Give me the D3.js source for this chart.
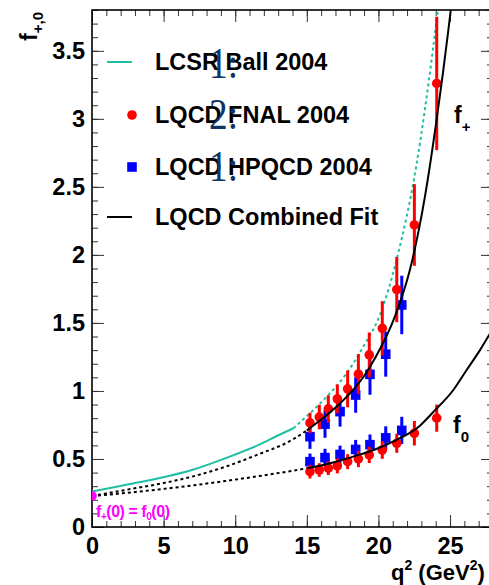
<!DOCTYPE html>
<html>
<head>
<meta charset="utf-8">
<script src="https://cdn.jsdelivr.net/npm/d3@7"></script>
<style>
  body { margin: 0; background: #fff; }
  svg text { font-family: "Liberation Sans", Arial, sans-serif; font-weight: bold; }
</style>
</head>
<body>
<div id="chart"></div>
<script>
// tick labels
const xTicks = [0, 5, 10, 15, 20, 25];
const yTicks = [0, 0.5, 1, 1.5, 2, 2.5, 3, 3.5];

// LQCD FNAL 2004 (red circles)
const qFnal = [15.22, 15.87, 16.50, 17.13, 17.85, 18.60, 19.36, 20.27, 21.28, 22.51, 24.07];
const fpFnal = [0.765, 0.808, 0.868, 0.942, 1.015, 1.124, 1.265, 1.46, 1.745, 2.22, 3.26];
const fpFnalErr = [0.075, 0.09, 0.1, 0.105, 0.135, 0.147, 0.165, 0.2, 0.24, 0.3, 0.49];
const f0Fnal = [0.407, 0.419, 0.432, 0.449, 0.48, 0.5, 0.53, 0.566, 0.615, 0.689, 0.80];
const f0FnalErr = [0.05, 0.05, 0.05, 0.055, 0.055, 0.06, 0.06, 0.065, 0.07, 0.09, 0.1];

// LQCD HPQCD 2004 (blue squares)
const qHpqcd = [15.22, 16.27, 17.32, 18.41, 19.41, 20.51, 21.63];
const fpHpqcd = [0.664, 0.756, 0.848, 0.97, 1.122, 1.27, 1.632];
const fpHpqcdErr = [0.09, 0.1, 0.11, 0.13, 0.15, 0.165, 0.215];
const f0Hpqcd = [0.48, 0.51, 0.533, 0.57, 0.605, 0.655, 0.71];
const f0HpqcdErr = [0.06, 0.065, 0.065, 0.07, 0.075, 0.085, 0.1];

// LCSR Ball 2004
const qLcsr = [0, 2.33, 4.65, 6.98, 9.31, 11.64, 13.13, 14.06];
const fLcsr = [0.26, 0.309, 0.358, 0.419, 0.505, 0.603, 0.68, 0.726];
const qLcsrExt = [14.06, 15.22, 16.39, 17.78, 18.95, 20.11, 21.28, 22.67, 23.83, 24.15];
const fLcsrExt = [0.726, 0.836, 0.958, 1.13, 1.326, 1.56, 1.97, 2.67, 3.53, 3.8];

// LQCD combined fit, f+
const qFitPlusExt = [0, 2.33, 4.65, 6.98, 9.31, 11.64, 13.97, 15];
const fFitPlusExt = [0.228, 0.272, 0.316, 0.37, 0.443, 0.535, 0.64, 0.71];
const qFitPlus = [15, 15.57, 16.97, 18.37, 19.0, 19.76, 21.16, 22.2, 23.25, 24.07, 24.88, 25.05];
const fFitPlus = [0.71, 0.755, 0.875, 1.025, 1.11, 1.24, 1.55, 1.89, 2.43, 3.0, 3.65, 3.8];

// LQCD combined fit, f0
const qFitZeroExt = [0, 2.33, 4.65, 6.98, 9.31, 11.64, 13.97, 15];
const fFitZeroExt = [0.228, 0.25, 0.276, 0.305, 0.338, 0.374, 0.413, 0.432];
const qFitZero = [15, 15.57, 16.97, 18.37, 19.76, 21.16, 22.9, 23.83, 25.23, 26.16, 27.09, 27.72, 28];
const fFitZero = [0.432, 0.443, 0.478, 0.522, 0.57, 0.635, 0.745, 0.845, 1.007, 1.154, 1.3, 1.41, 1.46];

// f+(0) = f0(0)
const qZero = [0];
const fZero = [0.228];
const fZeroErr = [0.02];

const legendLabels = ["LCSR Ball 2004", "LQCD FNAL 2004", "LQCD HPQCD 2004", "LQCD Combined Fit"];
const overlayMarks = ["1:", "2:", "1:"];

const W = 489, H = 585;
const margin = {top: 10, right: -4, bottom: 58, left: 92};
const width = W - margin.left - margin.right;
const height = H - margin.top - margin.bottom;

const svg = d3.select("#chart").append("svg")
    .attr("width", W)
    .attr("height", H);

const g = svg.append("g")
    .attr("transform", `translate(${margin.left},${margin.top})`);

const x = d3.scaleLinear().domain([0, 28]).range([0, width]);
const y = d3.scaleLinear().domain([0, 3.8]).range([height, 0]);

svg.append("defs").append("clipPath").attr("id", "plotclip")
    .append("rect").attr("width", width).attr("height", height);

// axes, ticks inside the frame
const xMinor = d3.range(0, 28.01, 1);
const yMinor = d3.range(0, 3.81, 0.1);

g.append("g").attr("class", "axis").attr("transform", `translate(0,${height})`)
    .call(d3.axisBottom(x).tickValues(xTicks).tickSizeInner(-12).tickSizeOuter(0).tickPadding(10).tickFormat(d => d));
g.append("g").attr("class", "axis minor").attr("transform", `translate(0,${height})`)
    .call(d3.axisBottom(x).tickValues(xMinor).tickSize(-6).tickFormat(""));
g.append("g").attr("class", "axis")
    .call(d3.axisTop(x).tickValues(xTicks).tickSize(-12).tickFormat(""));
g.append("g").attr("class", "axis minor")
    .call(d3.axisTop(x).tickValues(xMinor).tickSize(-6).tickFormat(""));

g.append("g").attr("class", "axis")
    .call(d3.axisLeft(y).tickValues(yTicks).tickSizeInner(-12).tickSizeOuter(0).tickPadding(7).tickFormat(d => d));
g.append("g").attr("class", "axis minor")
    .call(d3.axisLeft(y).tickValues(yMinor).tickSize(-6).tickFormat(""));
g.append("g").attr("class", "axis").attr("transform", `translate(${width},0)`)
    .call(d3.axisRight(y).tickValues(yTicks).tickSize(-12).tickFormat(""));
g.append("g").attr("class", "axis minor").attr("transform", `translate(${width},0)`)
    .call(d3.axisRight(y).tickValues(yMinor).tickSize(-6).tickFormat(""));

g.selectAll(".axis .domain").remove();
g.selectAll(".axis line").attr("stroke", "#333").attr("stroke-width", 1);
g.selectAll(".axis text").attr("font-size", "23.5px").attr("fill", "#000");

g.append("rect")
    .attr("width", width)
    .attr("height", height)
    .attr("fill", "none")
    .attr("stroke", "#000")
    .attr("stroke-width", 1.6);

// axis titles
svg.append("text")
    .attr("transform", "translate(37,12) rotate(-90)")
    .attr("text-anchor", "end")
    .attr("font-size", "23px")
    .call(t => {
        t.append("tspan").text("f");
        t.append("tspan").attr("font-size", "15px").attr("dy", 6).text("+,0");
    });

svg.append("text")
    .attr("x", 391)
    .attr("y", 580)
    .attr("font-size", "22px")
    .call(t => {
        t.append("tspan").text("q");
        t.append("tspan").attr("font-size", "14px").attr("dy", -10).text("2");
        t.append("tspan").attr("dy", 10).text(" (GeV");
        t.append("tspan").attr("font-size", "14px").attr("dy", -10).text("2");
        t.append("tspan").attr("dy", 10).text(")");
    });

// curves
const line = d3.line()
    .x(d => x(d[0]))
    .y(d => y(d[1]))
    .curve(d3.curveMonotoneX);

const plot = g.append("g").attr("clip-path", "url(#plotclip)");

const curves = [
    {q: qLcsr, f: fLcsr, color: "#1fbfa3", dash: null},
    {q: qLcsrExt, f: fLcsrExt, color: "#1fbfa3", dash: "3,3"},
    {q: qFitPlusExt, f: fFitPlusExt, color: "#000", dash: "3,3"},
    {q: qFitZeroExt, f: fFitZeroExt, color: "#000", dash: "3,3"}
];

curves.forEach(c => {
    plot.append("path")
        .datum(d3.zip(c.q, c.f))
        .attr("fill", "none")
        .attr("stroke", c.color)
        .attr("stroke-width", 2)
        .attr("stroke-dasharray", c.dash)
        .attr("d", line);
});

// error bars + markers
function drawPoints(qs, fs, errs, color, shape) {
    const pts = d3.zip(qs, fs, errs);
    plot.selectAll(null).data(pts).enter()
        .append("line")
        .attr("x1", d => x(d[0])).attr("x2", d => x(d[0]))
        .attr("y1", d => y(d[1] - d[2])).attr("y2", d => y(d[1] + d[2]))
        .attr("stroke", color)
        .attr("stroke-width", 3);
    if (shape === "circle") {
        plot.selectAll(null).data(pts).enter()
            .append("circle")
            .attr("cx", d => x(d[0])).attr("cy", d => y(d[1]))
            .attr("r", 4.8)
            .attr("fill", color);
    } else {
        plot.selectAll(null).data(pts).enter()
            .append("rect")
            .attr("x", d => x(d[0]) - 4.8).attr("y", d => y(d[1]) - 4.8)
            .attr("width", 9.6).attr("height", 9.6)
            .attr("fill", color);
    }
}

drawPoints(qHpqcd, fpHpqcd, fpHpqcdErr, "#0000ff", "square");
drawPoints(qHpqcd, f0Hpqcd, f0HpqcdErr, "#0000ff", "square");
drawPoints(qFnal, fpFnal, fpFnalErr, "#ff0000", "circle");
drawPoints(qFnal, f0Fnal, f0FnalErr, "#ff0000", "circle");
drawPoints(qZero, fZero, fZeroErr, "#ff00ff", "circle");

// solid fit curves on top
[{q: qFitPlus, f: fFitPlus}, {q: qFitZero, f: fFitZero}].forEach(c => {
    plot.append("path")
        .datum(d3.zip(c.q, c.f))
        .attr("fill", "none")
        .attr("stroke", "#000")
        .attr("stroke-width", 2)
        .attr("d", line);
});

// curve labels
svg.append("text").attr("x", 454).attr("y", 123).attr("font-size", "23px")
    .call(t => {
        t.append("tspan").text("f");
        t.append("tspan").attr("font-size", "15px").attr("dy", 9).text("+");
    });
svg.append("text").attr("x", 453).attr("y", 433).attr("font-size", "23px")
    .call(t => {
        t.append("tspan").text("f");
        t.append("tspan").attr("font-size", "15px").attr("dy", 9).text("0");
    });

svg.append("text").attr("x", 96).attr("y", 517).attr("font-size", "16px").attr("fill", "#ff00ff")
    .attr("textLength", 74)
    .call(t => {
        t.append("tspan").text("f");
        t.append("tspan").attr("font-size", "10px").attr("dy", 3).text("+");
        t.append("tspan").attr("dy", -3).text("(0) = f");
        t.append("tspan").attr("font-size", "10px").attr("dy", 3).text("0");
        t.append("tspan").attr("dy", -3).text("(0)");
    });

// legend
const legY = [62, 115, 167, 217];
const leg = svg.append("g");
leg.append("line").attr("x1", 107).attr("x2", 132).attr("y1", legY[0]).attr("y2", legY[0])
    .attr("stroke", "#1fbfa3").attr("stroke-width", 2);
leg.append("circle").attr("cx", 132).attr("cy", legY[1]).attr("r", 4.8).attr("fill", "#ff0000");
leg.append("rect").attr("x", 127.2).attr("y", legY[2] - 4.8).attr("width", 9.6).attr("height", 9.6).attr("fill", "#0000ff");
leg.append("line").attr("x1", 107).attr("x2", 132).attr("y1", legY[3]).attr("y2", legY[3])
    .attr("stroke", "#000").attr("stroke-width", 2);

leg.selectAll(".legtext").data(legendLabels).enter()
    .append("text")
    .attr("class", "legtext")
    .attr("x", 155)
    .attr("y", (d, i) => legY[i] + 8)
    .attr("font-size", "23.5px")
    .text(d => d);

// overlaid numbering
svg.selectAll(".mark").data(overlayMarks).enter()
    .append("text")
    .attr("class", "mark")
    .attr("x", 209)
    .attr("y", (d, i) => [78, 129, 181][i])
    .attr("font-size", "44px")
    .style("font-family", "'Liberation Serif', 'DejaVu Serif', serif")
    .style("font-weight", "normal")
    .attr("textLength", 29)
    .attr("lengthAdjust", "spacingAndGlyphs")
    .attr("fill", "#0f3565")
    .text(d => d);
</script>
</body>
</html>
